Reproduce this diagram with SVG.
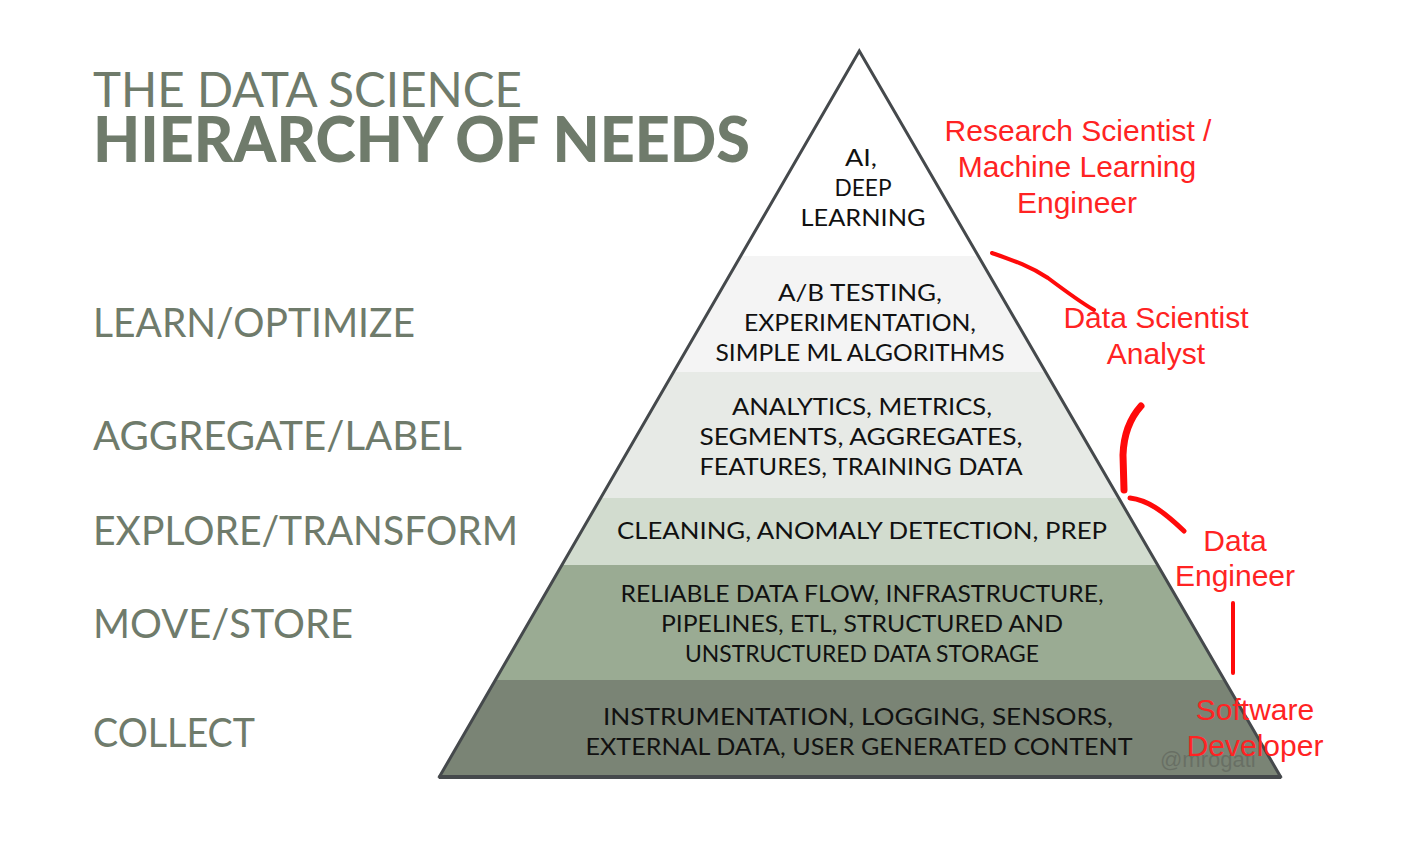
<svg xmlns="http://www.w3.org/2000/svg" width="1416" height="860" viewBox="0 0 1416 860">
<style>
.title{font-family:"Lato","Liberation Sans",sans-serif;fill:#6f7b6b}
.side{font-family:"Lato","Liberation Sans",sans-serif;font-size:41px;fill:#6f7b6b}
.pt{font-family:"Lato","Liberation Sans",sans-serif;font-size:23px;fill:#111;text-anchor:middle}
.red{font-family:"Liberation Sans",Arial,sans-serif;font-size:30px;fill:#ff2323;text-anchor:middle}
.mark{fill:none;stroke:#ff0a0a;stroke-linecap:round;stroke-linejoin:round}
.wm{font-family:"Liberation Sans",Arial,sans-serif;font-size:22px;fill:#5d6259;fill-opacity:0.6}
</style>
<defs>
<clipPath id="tri"><polygon points="859.3,51 438.7,778 1281.3,778"/></clipPath>
</defs>
<rect width="1416" height="860" fill="#ffffff"/>

<g id="title">
<text class="title" x="93" y="107" font-size="48" textLength="429" lengthAdjust="spacingAndGlyphs">THE DATA SCIENCE</text>
<text class="title" x="93" y="162" font-size="62" font-weight="900" textLength="657" lengthAdjust="spacingAndGlyphs">HIERARCHY OF NEEDS</text>
</g>

<g id="side-labels">
<text class="side" x="93" y="337" textLength="322" lengthAdjust="spacingAndGlyphs">LEARN/OPTIMIZE</text>
<text class="side" x="93" y="450" textLength="369" lengthAdjust="spacingAndGlyphs">AGGREGATE/LABEL</text>
<text class="side" x="93" y="545" textLength="425" lengthAdjust="spacingAndGlyphs">EXPLORE/TRANSFORM</text>
<text class="side" x="93" y="638" textLength="260" lengthAdjust="spacingAndGlyphs">MOVE/STORE</text>
<text class="side" x="93" y="747" textLength="162" lengthAdjust="spacingAndGlyphs">COLLECT</text>
</g>

<g id="pyramid">
<g clip-path="url(#tri)">
<rect x="400" y="40" width="920" height="216" fill="#ffffff"/>
<rect x="400" y="256" width="920" height="116" fill="#f4f4f4"/>
<rect x="400" y="372" width="920" height="126" fill="#e7eae6"/>
<rect x="400" y="498" width="920" height="67" fill="#d2dccf"/>
<rect x="400" y="565" width="920" height="115" fill="#9aab93"/>
<rect x="400" y="680" width="920" height="100" fill="#7a8475"/>
</g>
<polyline points="438.7,778 859.3,51 1281.3,778" fill="none" stroke="#45494c" stroke-width="3" stroke-linejoin="miter"/>
<line x1="438.7" y1="777" x2="1281.3" y2="777" stroke="#45494c" stroke-width="4"/>
</g>

<g id="level-ai">
<text class="pt" x="861" y="166" textLength="32" lengthAdjust="spacingAndGlyphs">AI,</text>
<text class="pt" x="863" y="196" textLength="57" lengthAdjust="spacingAndGlyphs">DEEP</text>
<text class="pt" x="863" y="226" textLength="125" lengthAdjust="spacingAndGlyphs">LEARNING</text>
</g>
<g id="level-learn">
<text class="pt" x="860" y="301" textLength="164" lengthAdjust="spacingAndGlyphs">A/B TESTING,</text>
<text class="pt" x="860" y="331" textLength="232" lengthAdjust="spacingAndGlyphs">EXPERIMENTATION,</text>
<text class="pt" x="860" y="361" textLength="289" lengthAdjust="spacingAndGlyphs">SIMPLE ML ALGORITHMS</text>
</g>
<g id="level-aggregate">
<text class="pt" x="862" y="415" textLength="260" lengthAdjust="spacingAndGlyphs">ANALYTICS, METRICS,</text>
<text class="pt" x="861" y="445" textLength="323" lengthAdjust="spacingAndGlyphs">SEGMENTS, AGGREGATES,</text>
<text class="pt" x="861" y="475" textLength="323" lengthAdjust="spacingAndGlyphs">FEATURES, TRAINING DATA</text>
</g>
<g id="level-explore">
<text class="pt" x="862" y="539" textLength="490" lengthAdjust="spacingAndGlyphs">CLEANING, ANOMALY DETECTION, PREP</text>
</g>
<g id="level-move">
<text class="pt" x="862" y="602" textLength="483" lengthAdjust="spacingAndGlyphs">RELIABLE DATA FLOW, INFRASTRUCTURE,</text>
<text class="pt" x="862" y="632" textLength="402" lengthAdjust="spacingAndGlyphs">PIPELINES, ETL, STRUCTURED AND</text>
<text class="pt" x="862" y="662" textLength="354" lengthAdjust="spacingAndGlyphs">UNSTRUCTURED DATA STORAGE</text>
</g>
<g id="level-collect">
<text class="pt" x="858" y="725" textLength="510" lengthAdjust="spacingAndGlyphs">INSTRUMENTATION, LOGGING, SENSORS,</text>
<text class="pt" x="859" y="755" textLength="547" lengthAdjust="spacingAndGlyphs">EXTERNAL DATA, USER GENERATED CONTENT</text>
</g>

<g id="watermark">
<text class="wm" x="1160" y="767">@mrogati</text>
</g>

<g id="connectors">
<path class="mark" d="M992,253 C1012,260 1030,266 1048,278 C1064,290 1080,302 1094,310" stroke-width="4"/>
<path class="mark" d="M1141,406 Q1124,425 1123,455 L1124,490" stroke-width="7"/>
<path class="mark" d="M1130,498 C1147,500 1162,510 1184,531" stroke-width="5"/>
<path class="mark" d="M1233,603 L1233,673" stroke-width="4"/>
</g>

<g id="role-research">
<text class="red" x="1078" y="141">Research Scientist /</text>
<text class="red" x="1077" y="177">Machine Learning</text>
<text class="red" x="1077" y="213">Engineer</text>
</g>
<g id="role-data-scientist">
<text class="red" x="1156" y="328">Data Scientist</text>
<text class="red" x="1156" y="364">Analyst</text>
</g>
<g id="role-data-engineer">
<text class="red" x="1235" y="551">Data</text>
<text class="red" x="1235" y="586">Engineer</text>
</g>
<g id="role-software">
<text class="red" x="1255" y="720">Software</text>
<text class="red" x="1255" y="756">Developer</text>
</g>
</svg>
